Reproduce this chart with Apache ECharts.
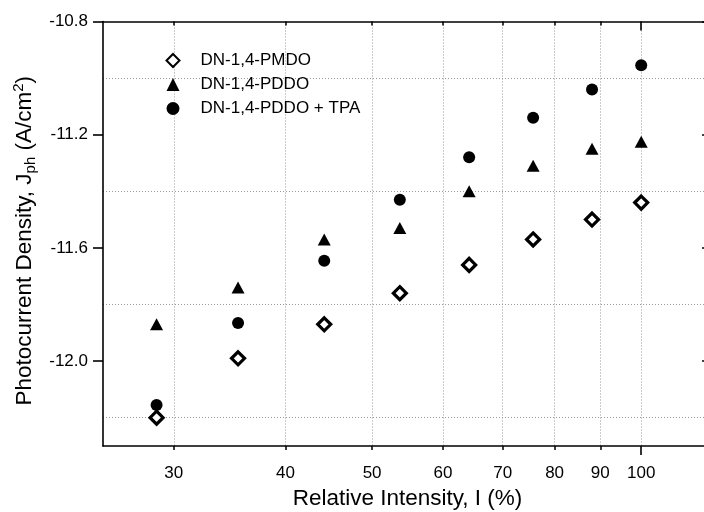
<!DOCTYPE html>
<html>
<head>
<meta charset="utf-8">
<script src="https://cdn.jsdelivr.net/npm/echarts@6/dist/echarts.min.js"></script>
<style>
  html, body { margin: 0; padding: 0; background: #fff; }
  #chart { width: 704px; height: 512px; }
</style>
</head>
<body>
<div id="chart"></div>
<script>
    var intensity = [28.7, 35.4, 44.2, 53.7, 64.2, 75.7, 88.1, 100];
    var pmdo = [-12.20, -11.99, -11.87, -11.76, -11.66, -11.57, -11.50, -11.44];
    var pddo = [-11.87, -11.74, -11.57, -11.53, -11.40, -11.31, -11.25, -11.225];
    var pddoTpa = [-12.155, -11.865, -11.645, -11.43, -11.28, -11.14, -11.04, -10.955];

    var xLabels = [30, 40, 50, 60, 70, 80, 90, 100];
    var xMinor = [30, 40, 50, 60, 70, 80, 90];
    var xMajor = [100];
    var yLabels = [-12.0, -11.6, -11.2, -10.8];
    var yGrid = [-12.2, -11.8, -11.4, -11.0];

    var font = 'Liberation Sans, Arial, sans-serif';
    var grid_line = {show: true, lineStyle: {color: '#999', type: [1, 2], width: 1}};
    var black_line = {show: true, lineStyle: {color: '#000', width: 1.6}};

    function pairs(xs, ys) {
        var out = [];
        for (var i = 0; i < xs.length; i++) {
            out.push([xs[i], ys[i]]);
        }
        return out;
    }

    function xAxisOf(pos, opt) {
        var base = {
            type: 'log',
            logBase: 10,
            min: 25,
            max: 120,
            position: pos,
            gridIndex: 0,
            axisLine: {show: false},
            axisLabel: {show: false},
            axisTick: {show: false},
            splitLine: {show: false}
        };
        return Object.assign(base, opt);
    }

    function yAxisOf(pos, opt) {
        var base = {
            type: 'value',
            min: -12.3,
            max: -10.8,
            position: pos,
            gridIndex: 0,
            axisLine: {show: false},
            axisLabel: {show: false},
            axisTick: {show: false},
            splitLine: {show: false}
        };
        return Object.assign(base, opt);
    }

    var my_chart = echarts.init(document.getElementById('chart'));

    var option = {
        backgroundColor: '#fff',
        animation: false,
        textStyle: {fontFamily: font, color: '#000'},
        grid: {left: 103, top: 21.5, right: -8, bottom: 66, containLabel: false, outerBoundsMode: 'none'},
        legend: {
            orient: 'vertical',
            left: 160.5,
            top: 47,
            itemWidth: 13,
            itemHeight: 13,
            itemGap: 7,
            textStyle: {fontFamily: font, fontSize: 17, color: '#000', padding: [0, 0, 0, 16]},
            data: ['DN-1,4-PMDO', 'DN-1,4-PDDO', 'DN-1,4-PDDO + TPA']
        },
        xAxis: [
            // bottom: labels, short ticks and grid at 30..90
            xAxisOf('bottom', {
                axisLine: black_line,
                axisLabel: {
                    show: true, customValues: xLabels, margin: 19,
                    fontFamily: font, fontSize: 17, color: '#000'
                },
                axisTick: {show: true, customValues: xMinor, length: 4, lineStyle: {color: '#000', width: 1.5}},
                splitLine: grid_line,
                name: 'Relative Intensity, I (%)',
                nameLocation: 'middle',
                nameGap: 38,
                nameTextStyle: {fontFamily: font, fontSize: 22.5, color: '#000'}
            }),
            // bottom: long tick and grid at 100
            xAxisOf('bottom', {
                axisTick: {show: true, customValues: xMajor, length: 9, lineStyle: {color: '#000', width: 1.6}},
                splitLine: grid_line
            }),
            // top frame
            xAxisOf('top', {
                axisLine: black_line,
                axisTick: {show: true, inside: true, customValues: xMinor, length: 4, lineStyle: {color: '#000', width: 1.5}}
            }),
            xAxisOf('top', {
                axisTick: {show: true, inside: true, customValues: xMajor, length: 9, lineStyle: {color: '#000', width: 1.6}}
            })
        ],
        yAxis: [
            yAxisOf('left', {
                axisLine: black_line,
                axisLabel: {
                    show: true, customValues: yLabels, margin: 15,
                    fontFamily: font, fontSize: 17, color: '#000',
                    formatter: function (v) { return v.toFixed(1); }
                },
                axisTick: {show: true, customValues: yLabels, length: 10, lineStyle: {color: '#000', width: 1.6}},
                name: 'Photocurrent Density, J{sub|ph} (A/cm{sup|2})',
                nameLocation: 'middle',
                nameGap: 64,
                nameTextStyle: {
                    fontFamily: font, fontSize: 22.5, color: '#000',
                    padding: [0, 14, 0, 0],
                    rich: {
                        sub: {fontFamily: font, fontSize: 15, color: '#000', padding: [12, 0, 0, 0]},
                        sup: {fontFamily: font, fontSize: 15, color: '#000', padding: [0, 0, 12, 0]}
                    }
                }
            }),
            // dotted grid between the labelled values
            yAxisOf('left', {
                axisTick: {show: false, customValues: yGrid},
                splitLine: grid_line
            }),
            // right frame, ticks pointing in
            yAxisOf('right', {
                axisLine: black_line,
                axisTick: {show: true, inside: true, customValues: yLabels, length: 10, lineStyle: {color: '#000', width: 1.6}}
            })
        ],
        series: [
            {
                name: 'DN-1,4-PMDO',
                type: 'scatter',
                symbol: 'diamond',
                symbolSize: [13, 13],
                itemStyle: {color: '#fff', borderColor: '#000', borderWidth: 3.2, opacity: 1},
                data: pairs(intensity, pmdo)
            },
            {
                name: 'DN-1,4-PDDO',
                type: 'scatter',
                symbol: 'triangle',
                symbolSize: [13, 12],
                itemStyle: {color: '#000', opacity: 1},
                data: pairs(intensity, pddo)
            },
            {
                name: 'DN-1,4-PDDO + TPA',
                type: 'scatter',
                symbol: 'circle',
                symbolSize: 12,
                itemStyle: {color: '#000', opacity: 1},
                data: pairs(intensity, pddoTpa)
            }
        ]
    };

    my_chart.setOption(option, true);
</script>
</body>
</html>
